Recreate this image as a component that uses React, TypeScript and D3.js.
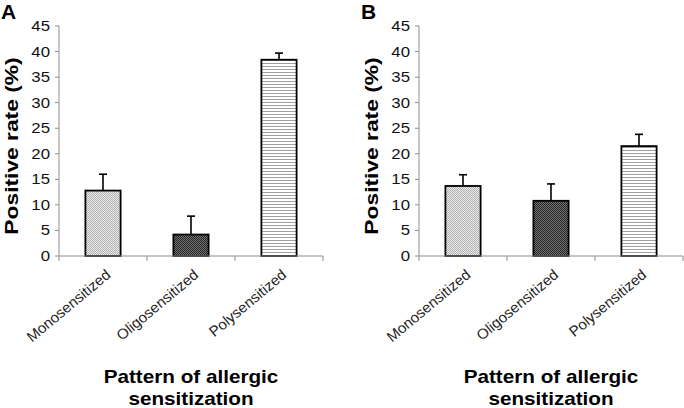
import React from 'react';
import * as d3 from 'd3';

// categories and values
const categories = ['Monosensitized', 'Oligosensitized', 'Polysensitized'];
const ratesA = [12.8, 4.2, 38.4];
const errorsA = [3.2, 3.6, 1.3];
const ratesB = [13.7, 10.8, 21.5];
const errorsB = [2.2, 3.3, 2.3];
const yTicks = [0, 5, 10, 15, 20, 25, 30, 35, 40, 45];
const patternIds = ['pat-mono', 'pat-oligo', 'pat-poly'];

const W = 684,
    H = 408;
const axisLeft = 59,
    axisRight = 323,
    plotTop = 26,
    plotBottom = 256;
const panelShift = 360;
const font = "Arial, 'Liberation Sans', Helvetica, sans-serif";

function Panel({ letter, rates, errors, dx }: { letter: string; rates: number[]; errors: number[]; dx: number }) {
    const x = d3.scaleBand().domain(categories).range([axisLeft, axisRight]).paddingInner(0.6).paddingOuter(0.3);
    const y = d3.scaleLinear().domain([0, 45]).range([plotBottom, plotTop]);
    const step = x.step();
    const bounds = d3.range(categories.length + 1).map(i => axisLeft + i * step);
    const mid = (axisLeft + axisRight) / 2;

    return (
        <g transform={`translate(${dx},0)`}>
            <text x={1} y={19} fontFamily={font} fontWeight="bold" fontSize={21} fill="#000">{letter}</text>

            {/* y axis */}
            <line x1={axisLeft} x2={axisLeft} y1={plotTop} y2={plotBottom} stroke="#8c8c8c" />
            {yTicks.map(t => (
                <g key={t} transform={`translate(0,${y(t)})`}>
                    <line x1={axisLeft - 4} x2={axisLeft} stroke="#8c8c8c" />
                    <text x={50} dy="0.36em" textAnchor="end" fontFamily={font} fontSize={14}
                        transform="translate(50,0) scale(1.2,1) translate(-50,0)" fill="#111">{t}</text>
                </g>
            ))}
            <text transform={`translate(17.5,146) rotate(-90) scale(1.2,1)`} textAnchor="middle"
                fontFamily={font} fontWeight="bold" fontSize={19} fill="#000">Positive rate (%)</text>

            {/* bars */}
            {categories.map((c, i) => {
                const x0 = x(c)!;
                const bw = x.bandwidth();
                const cx = x0 + bw / 2;
                return (
                    <g key={c}>
                        <line x1={cx} x2={cx} y1={y(rates[i])} y2={y(rates[i] + errors[i])} stroke="#000" strokeWidth={1.6} />
                        <line x1={cx - 4} x2={cx + 4} y1={y(rates[i] + errors[i])} y2={y(rates[i] + errors[i])} stroke="#000" strokeWidth={1.6} />
                        <rect x={x0} y={y(rates[i])} width={bw} height={plotBottom - y(rates[i])}
                            fill={`url(#${patternIds[i]})`} stroke="#000" strokeWidth={1.8} />
                    </g>
                );
            })}

            {/* x axis */}
            <line x1={axisLeft} x2={axisRight} y1={plotBottom} y2={plotBottom} stroke="#8c8c8c" />
            {bounds.map(b => (
                <line key={b} x1={b} x2={b} y1={plotBottom} y2={plotBottom + 5} stroke="#8c8c8c" />
            ))}
            {categories.map(c => {
                const ex = x(c)! + x.bandwidth() / 2 + 9;
                return (
                    <text key={c} transform={`translate(${ex},${plotBottom + 20}) scale(1.2,1) rotate(-45)`}
                        textAnchor="end" fontFamily={font} fontStyle="italic" fontSize={13.5} fill="#222">{c}</text>
                );
            })}
            <text transform={`translate(${mid},383) scale(1.15,1)`} textAnchor="middle" fontFamily={font}
                fontWeight="bold" fontSize={18} fill="#000">Pattern of allergic</text>
            <text transform={`translate(${mid},405) scale(1.15,1)`} textAnchor="middle" fontFamily={font}
                fontWeight="bold" fontSize={18} fill="#000">sensitization</text>
        </g>
    );
}

export default function App() {
    return (
        <div style={{ position: 'absolute', left: 0, top: 0 }}>
            <svg width={W} height={H} style={{ display: 'block', background: '#fff' }}>
                <defs>
                    <pattern id="pat-mono" width={2} height={2} patternUnits="userSpaceOnUse">
                        <rect width={2} height={2} fill="#ececec" />
                        <rect width={1} height={1} fill="#b0b0b0" />
                        <rect x={1} y={1} width={1} height={1} fill="#b0b0b0" />
                    </pattern>
                    <pattern id="pat-oligo" width={2} height={2} patternUnits="userSpaceOnUse">
                        <rect width={2} height={2} fill="#777" />
                        <rect width={1} height={1} fill="#222" />
                        <rect x={1} y={1} width={1} height={1} fill="#222" />
                    </pattern>
                    <pattern id="pat-poly" width={3} height={3} patternUnits="userSpaceOnUse">
                        <rect width={3} height={3} fill="#fff" />
                        <rect width={3} height={1} fill="#a0a0a0" />
                    </pattern>
                </defs>
                <Panel letter="A" rates={ratesA} errors={errorsA} dx={0} />
                <Panel letter="B" rates={ratesB} errors={errorsB} dx={panelShift} />
            </svg>
        </div>
    );
}
